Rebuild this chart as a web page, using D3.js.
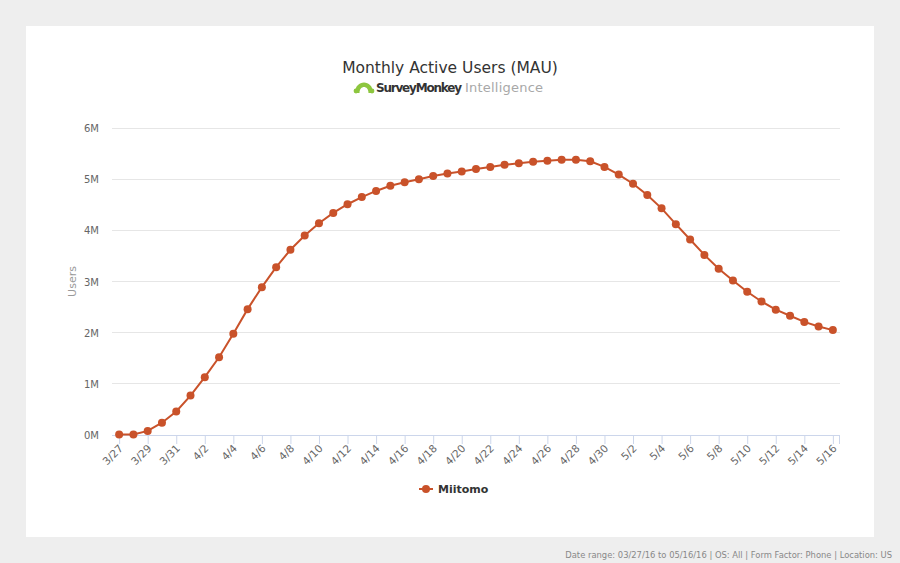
<!DOCTYPE html>
<html><head><meta charset="utf-8">
<script src="https://cdn.jsdelivr.net/npm/d3@7"></script>
<style>body{margin:0;background:#eeeeee;}svg{display:block;}</style>
</head><body>
<svg id="c" width="900" height="563"></svg>
<script>
const dates = ["3/27","3/28","3/29","3/30","3/31","4/1","4/2","4/3","4/4","4/5","4/6","4/7","4/8","4/9","4/10","4/11","4/12","4/13","4/14","4/15","4/16","4/17","4/18","4/19","4/20","4/21","4/22","4/23","4/24","4/25","4/26","4/27","4/28","4/29","4/30","5/1","5/2","5/3","5/4","5/5","5/6","5/7","5/8","5/9","5/10","5/11","5/12","5/13","5/14","5/15","5/16"];
const miitomo = [0.01,0.01,0.08,0.24,0.46,0.77,1.13,1.52,1.98,2.46,2.89,3.28,3.62,3.90,4.14,4.34,4.51,4.65,4.77,4.87,4.94,5.00,5.06,5.11,5.15,5.20,5.24,5.28,5.31,5.34,5.36,5.38,5.38,5.35,5.24,5.09,4.91,4.69,4.43,4.12,3.82,3.52,3.25,3.02,2.80,2.61,2.45,2.33,2.21,2.12,2.05];
const yTicks = [0,1,2,3,4,5,6];
const seriesName = "Miitomo";
const titleText = "Monthly Active Users (MAU)";
const footerText = "Date range: 03/27/16 to 05/16/16 | OS: All | Form Factor: Phone | Location: US";

const svg = d3.select("#c");
const font = "'DejaVu Sans', sans-serif";
const color = "#c9522a";

svg.append("rect").attr("x",26).attr("y",26).attr("width",848).attr("height",511).attr("fill","#fff");

const L=112,R=840,T=128,B=435;
const x = d3.scalePoint().domain(dates).range([L,R]).padding(0.5);
const y = d3.scaleLinear().domain([0,6]).range([B,T]);

// gridlines
svg.append("g").selectAll("line").data(yTicks).join("line")
  .attr("x1",L).attr("x2",R).attr("y1",d=>y(d)).attr("y2",d=>y(d))
  .attr("stroke","#e6e6e6").attr("stroke-width",1).attr("shape-rendering","crispEdges");
svg.append("g").selectAll("text").data(yTicks).join("text")
  .attr("x",99).attr("y",d=>y(d)+4).attr("text-anchor","end")
  .attr("font-family",font).attr("font-size",10).attr("fill","#666")
  .text(d=>d+"M");
svg.append("text").attr("transform","translate(76,"+((T+B)/2)+") rotate(-90)")
  .attr("text-anchor","middle").attr("font-family",font).attr("font-size",11).attr("fill","#999").text("Users");

// x axis
const tickDates = dates.filter((d,i)=>i%2===0);
const xAxis = d3.axisBottom(x).tickValues(tickDates).tickSize(9).tickSizeOuter(0);
const gx = svg.append("g").attr("transform","translate(0,"+B+")").call(xAxis);
gx.select(".domain").attr("stroke","#ccd6eb").attr("d","M"+L+",0.5H"+R);
gx.selectAll(".tick line").attr("stroke","#ccd6eb");
gx.selectAll(".tick text").attr("font-family",font).attr("font-size",10.5).attr("fill","#666")
  .attr("text-anchor","end").attr("dy",null).attr("y",null)
  .attr("transform","translate(4,14) rotate(-45)");
svg.append("line").attr("x1",R-0.5).attr("x2",R-0.5).attr("y1",B).attr("y2",B+9).attr("stroke","#ccd6eb");

// series
const data = dates.map((d,i)=>({d,v:miitomo[i]}));
svg.append("path").datum(data)
  .attr("d",d3.line().x(p=>x(p.d)).y(p=>y(p.v)))
  .attr("fill","none").attr("stroke",color).attr("stroke-width",2);
svg.append("g").selectAll("circle").data(data).join("circle")
  .attr("cx",p=>x(p.d)).attr("cy",p=>y(p.v)).attr("r",4).attr("fill",color);

// title
svg.append("text").attr("x",450).attr("y",73).attr("text-anchor","middle")
  .attr("font-family",font).attr("font-size",15.5).attr("fill","#333").text(titleText);
// logo
const lg = svg.append("g");
lg.append("path").attr("d","M355,93 C355,79 373,79 373,93 L368.5,93 C368.5,85 359.5,85 359.5,93 Z").attr("fill","#8dc63f");
lg.append("circle").attr("cx",356).attr("cy",91).attr("r",2.4).attr("fill","#8dc63f");
lg.append("circle").attr("cx",372).attr("cy",91).attr("r",2.4).attr("fill","#8dc63f");
lg.append("text").attr("x",376).attr("y",92).attr("font-family",font).attr("font-size",12).attr("font-weight","bold").attr("fill","#333").attr("textLength",86).text("SurveyMonkey");
lg.append("text").attr("x",465).attr("y",92).attr("font-family",font).attr("font-size",13).attr("fill","#a8a8a8").attr("textLength",78).text("Intelligence");

// legend
svg.append("line").attr("x1",419).attr("x2",433).attr("y1",489).attr("y2",489).attr("stroke",color).attr("stroke-width",2);
svg.append("circle").attr("cx",426).attr("cy",489).attr("r",4).attr("fill",color);
svg.append("text").attr("x",438).attr("y",493).attr("font-family",font).attr("font-size",11).attr("font-weight","bold").attr("fill","#333").text(seriesName);

// footer
svg.append("text").attr("x",892).attr("y",558).attr("text-anchor","end").attr("font-family",font).attr("font-size",8.4).attr("fill","#888").text(footerText);
</script>
</body></html>
